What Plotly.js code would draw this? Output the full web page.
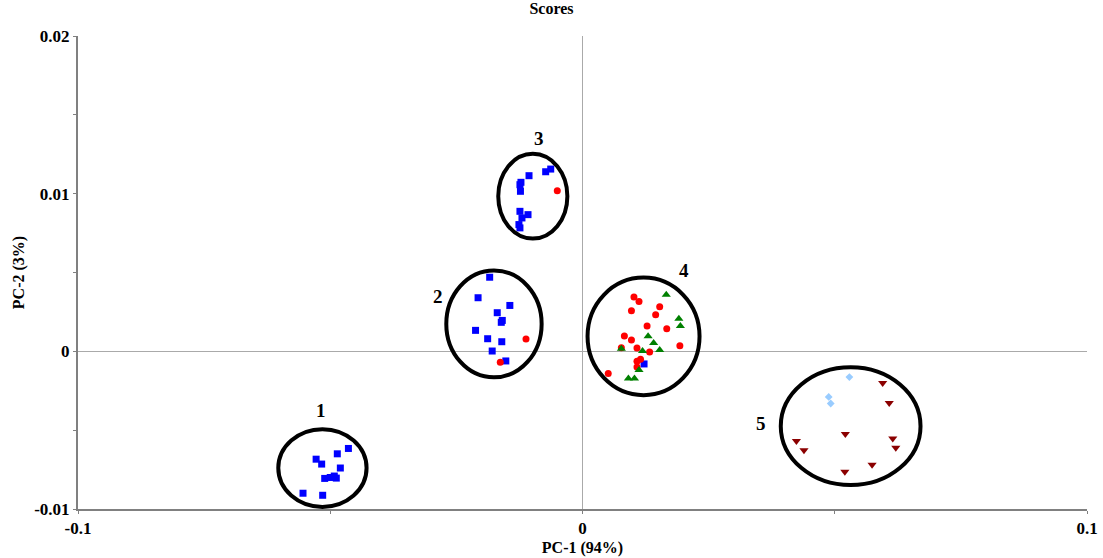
<!DOCTYPE html>
<html>
<head>
<meta charset="utf-8">
<script src="https://cdn.plot.ly/plotly-3.0.1.min.js"></script>
<style>html,body{margin:0;padding:0;background:#fff;}#chart{width:1103px;height:558px;}</style>
</head>
<body>
<div id="chart"></div>
<script>
// Blue squares
var blueX = [-0.0464,-0.0486,-0.0528,-0.0517,-0.0480,-0.0511,-0.0500,-0.0492,-0.0488,-0.0554,-0.0515,
             -0.0184,-0.0207,-0.0144,-0.0169,-0.0159,-0.0161,-0.0212,-0.0188,-0.0160,-0.0179,-0.0152,
             -0.0063,-0.0073,-0.0106,-0.0122,-0.0124,-0.0123,-0.0124,-0.0108,-0.0120,-0.0126,-0.0124,
             0.0122];
var blueY = [-0.00616,-0.0065,-0.00684,-0.00715,-0.0074,-0.00806,-0.0080,-0.00791,-0.00804,-0.0090,-0.00913,
             0.0047,0.0034,0.00291,0.00245,0.00196,0.00184,0.00133,0.0008,0.00061,0.00002,-0.00061,
             0.01156,0.01139,0.01114,0.01072,0.01057,0.01015,0.00888,0.00867,0.00846,0.00804,0.00783,
             -0.0008];
// Red circles
var redX = [-0.0112,-0.0163,-0.0050,
            0.0102,0.0112,0.0153,0.0097,0.0145,0.0128,0.0167,0.0083,0.0097,0.0193,0.0077,0.0108,0.0133,0.0115,0.0108,0.0108,0.0051];
var redY = [0.00078,-0.0007,0.01019,
            0.00344,0.00316,0.00283,0.00258,0.00232,0.0016,0.00144,0.00097,0.00072,0.00036,0.00023,0.00021,-0.00004,-0.00051,-0.00063,-0.00099,-0.00141];
// Green triangles
var greenX = [0.0166,0.0191,0.0194,0.0130,0.0141,0.0077,0.0119,0.0153,0.0112,0.0091,0.0103];
var greenY = [0.00359,0.00207,0.0016,0.00095,0.00053,0.00017,0.00002,0.00008,-0.00118,-0.00173,-0.00173];
// Light blue diamonds
var lightX = [0.0529,0.0488,0.0492];
var lightY = [-0.00163,-0.00289,-0.00331];
// Dark red down triangles
var darkX = [0.0595,0.0608,0.0521,0.0424,0.0439,0.0615,0.0621,0.0574,0.0520];
var darkY = [-0.00201,-0.00327,-0.00525,-0.00568,-0.00627,-0.00553,-0.00612,-0.0072,-0.00764];

// Group ellipses (data coordinates) and labels
var groupLabels = ["1","2","3","4","5"];
var ellX0 = [-0.0603,-0.0270,-0.0167,0.0010,0.0393];
var ellX1 = [-0.0428,-0.0081,-0.0030,0.0232,0.0670];
var ellY0 = [-0.00987,-0.00165,0.00715,-0.00278,-0.00848];
var ellY1 = [-0.00494,0.00513,0.01253,0.00468,-0.00101];
var labelX = [-0.0519,-0.0287,-0.0087,0.0202,0.0353];
var labelY = [-0.00373,0.00348,0.01348,0.00513,-0.00456];

var serif = "Liberation Serif, Times New Roman, serif";

function tr(x, y, sym, color, size) {
  return {x: x, y: y, type: 'scatter', mode: 'markers', hoverinfo: 'x+y',
          marker: {symbol: sym, color: color, size: size, line: {width: 0}}, showlegend: false, cliponaxis: false};
}
var data = [
  tr(blueX, blueY, 'square', '#0000FF', 7),
  tr(redX, redY, 'circle', '#FF0000', 7),
  tr(greenX, greenY, 'triangle-up', '#008000', 8),
  tr(lightX, lightY, 'diamond', '#99CCFF', 6),
  tr(darkX, darkY, 'triangle-down', '#8B0000', 8)
];

var shapes = [];
var annotations = [];
for (var i = 0; i < groupLabels.length; i++) {
  shapes.push({type: 'circle', xref: 'x', yref: 'y', x0: ellX0[i], x1: ellX1[i], y0: ellY0[i], y1: ellY1[i],
               line: {color: '#000', width: 4}, layer: 'above'});
  annotations.push({x: labelX[i], y: labelY[i], xref: 'x', yref: 'y', text: groupLabels[i], showarrow: false,
                    font: {family: serif, size: 19, color: '#000', weight: 'bold'}});
}

var layout = {
  width: 1103, height: 558,
  margin: {l: 78, r: 16, t: 36, b: 49},
  paper_bgcolor: '#fff', plot_bgcolor: '#fff',
  title: {text: '<b>Scores</b>', x: 0.5, xanchor: 'center', y: 0.995, yanchor: 'top',
          font: {family: serif, size: 16, color: '#000'}},
  xaxis: {range: [-0.1, 0.1], tickvals: [-0.1, 0, 0.1], ticktext: ['<b>-0.1</b>','<b>0</b>','<b>0.1</b>'],
          showgrid: false, zeroline: true, zerolinecolor: '#aaaaaa', zerolinewidth: 1,
          showline: true, linecolor: '#808080', linewidth: 2, ticks: 'outside', ticklen: 3, tickcolor: '#808080',
          minor: {tickvals: [-0.05, 0.05], ticks: 'outside', ticklen: 3, tickcolor: '#808080'},
          tickfont: {family: serif, size: 17, color: '#000'},
          title: {text: '<b>PC-1 (94%)</b>', font: {family: serif, size: 16, color: '#000'}, standoff: 4}},
  yaxis: {range: [-0.01, 0.02], tickvals: [-0.01, 0, 0.01, 0.02], ticktext: ['<b>-0.01</b>','<b>0</b>','<b>0.01</b>','<b>0.02</b>'],
          showgrid: false, zeroline: true, zerolinecolor: '#aaaaaa', zerolinewidth: 1,
          showline: true, linecolor: '#808080', linewidth: 2, ticks: 'outside', ticklen: 3, tickcolor: '#808080',
          minor: {tickvals: [-0.005, 0.005, 0.015], ticks: 'outside', ticklen: 3, tickcolor: '#808080'},
          tickfont: {family: serif, size: 17, color: '#000'},
          title: {text: '<b>PC-2 (3%)</b>', font: {family: serif, size: 16, color: '#000'}, standoff: 6}},
  shapes: shapes,
  annotations: annotations
};

Plotly.newPlot('chart', data, layout, {displayModeBar: false, staticPlot: true});
</script>
</body>
</html>
